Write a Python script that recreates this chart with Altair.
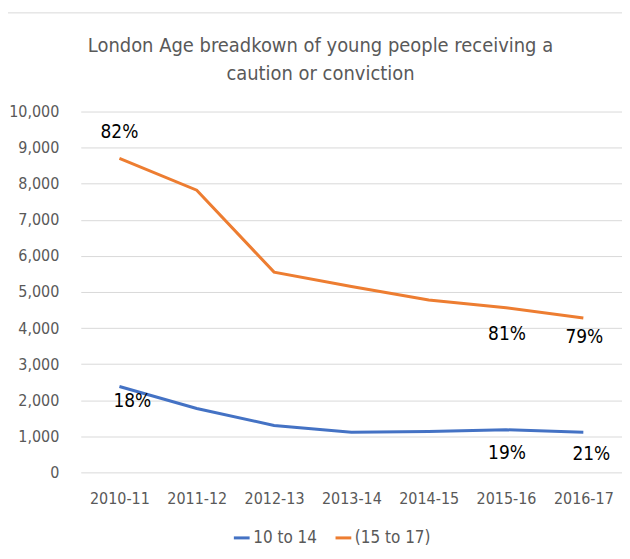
import altair as alt
import pandas as pd

years = ["2010-11", "2011-12", "2012-13", "2013-14", "2014-15", "2015-16", "2016-17"]
age_10_14 = [2380, 1770, 1300, 1110, 1130, 1180, 1110]
age_15_17 = [8700, 7820, 5550, 5150, 4780, 4560, 4280]
series_names = ["10 to 14", "(15 to 17)"]
series_colors = ["#4472C4", "#ED7D31"]

# percentage labels: (year, series, text)
label_years = ["2010-11", "2010-11", "2015-16", "2016-17", "2015-16", "2016-17"]
label_series = ["(15 to 17)", "10 to 14", "(15 to 17)", "(15 to 17)", "10 to 14", "10 to 14"]
label_texts = ["82%", "18%", "81%", "79%", "19%", "21%"]

rows = []
for name, vals in zip(series_names, [age_10_14, age_15_17]):
    for y, v in zip(years, vals):
        rows.append({"year": y, "series": name, "value": v})
df = pd.DataFrame(rows)

lookup = {(r["year"], r["series"]): r["value"] for r in rows}
lab = pd.DataFrame({
    "year": label_years,
    "series": label_series,
    "text": label_texts,
    "value": [lookup[(y, s)] for y, s in zip(label_years, label_series)],
})

FONT = "DejaVu Sans Condensed, Liberation Sans Narrow, Open Sans, sans-serif"
GRAY = "#595959"

x_enc = alt.X("year:N", sort=years, title=None,
              scale=alt.Scale(domain=years, paddingOuter=0.5),
              axis=alt.Axis(labelAngle=0, labelFontSize=16, labelColor=GRAY,
                            labelFont=FONT, ticks=False, domain=False, labelPadding=18))
y_enc = alt.Y("value:Q", title=None,
              scale=alt.Scale(domain=[0, 10000]),
              axis=alt.Axis(values=list(range(0, 10001, 1000)), format=",.0f",
                            labelOverlap=False,
                            labelFontSize=16, labelColor=GRAY, labelFont=FONT,
                            ticks=False, domain=False, labelPadding=22,
                            gridColor="#d9d9d9", gridWidth=1))

lines = alt.Chart(df).mark_line(strokeWidth=3).encode(
    x=x_enc,
    y=y_enc,
    color=alt.Color("series:N", sort=series_names,
                    scale=alt.Scale(domain=series_names, range=series_colors),
                    legend=alt.Legend(title=None, orient="none", direction="horizontal",
                                      legendX=152, legendY=418, symbolType="stroke",
                                      symbolStrokeWidth=3, symbolSize=250,
                                      labelFontSize=17, labelColor=GRAY, labelFont=FONT,
                                      columnPadding=12, labelOffset=2)),
)

offsets = [(0, -27), (13, 15), (1, 26), (1, 19), (1, 23), (8, 22)]
label_layers = []
for i, (dx, dy) in enumerate(offsets):
    label_layers.append(
        alt.Chart(lab.iloc[[i]]).mark_text(dx=dx, dy=dy, fontSize=19, font=FONT,
                                           color="#000000").encode(
            x=x_enc, y=y_enc, text="text:N")
    )

frame = alt.Chart(pd.DataFrame({"a": [0]})).mark_rect(
    fill=None, stroke="#d9d9d9", strokeWidth=1, clip=False
).encode(x=alt.value(-74), x2=alt.value(548), y=alt.value(-99), y2=alt.value(448))

chart = alt.layer(frame, lines, *label_layers).properties(
    width=543, height=362,
    title=alt.TitleParams(
        ["London Age breadkown of young people receiving a", "caution or conviction"],
        fontSize=20, font=FONT, color=GRAY, fontWeight="normal",
        lineHeight=28, anchor="middle", offset=-72, dx=-31,
    ),
    autosize=alt.AutoSizeParams(type="none"),
    padding={"left": 73, "top": 103, "right": 0, "bottom": 78},
).configure_view(stroke=None)

chart.save("out.html", embed_options={"renderer": "svg", "actions": False})
